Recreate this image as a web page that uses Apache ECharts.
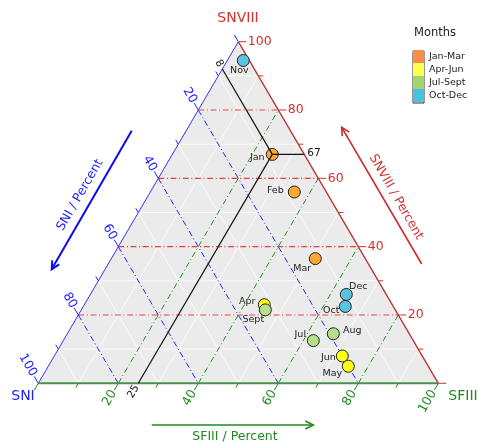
<!DOCTYPE html>
<html>
<head>
<meta charset="utf-8">
<script src="https://cdn.jsdelivr.net/npm/echarts@6/dist/echarts.min.js"></script>
<style>
  html, body { margin: 0; padding: 0; background: #fff; }
  #chart { width: 479px; height: 443px; }
</style>
</head>
<body>
<div id="chart"></div>
<script>
// monthly composition (percent)
const months = ['Jan', 'Feb', 'Mar', 'Apr', 'May', 'Jun', 'Jul', 'Aug', 'Sept', 'Oct', 'Nov', 'Dec'];
const sni    = [8, 8, 12.5, 32, 20, 20, 25, 19, 32.5, 12, 1.5, 10];
const sfiii  = [25, 36, 51, 45, 75, 72, 62.5, 66.5, 46, 65.5, 4, 64];
const snviii = [67, 56, 36.5, 23, 5, 8, 12.5, 14.5, 21.5, 22.5, 94.5, 26];
const quarters = ['Jan-Mar', 'Apr-Jun', 'Jul-Sept', 'Oct-Dec'];
const quarterOf = [0, 0, 0, 1, 1, 1, 2, 2, 2, 3, 3, 3];

// the reading lines through January
const markSni = 8, markSfiii = 25, markSnviii = 67;

const gridSteps = [10, 20, 30, 40, 50, 60, 70, 80, 90];
const dashSteps = [20, 40, 60, 80];
const tickValues = [0, 10, 20, 30, 40, 50, 60, 70, 80, 90, 100];
const tickLabels = [20, 40, 60, 80, 100];

const pointColors = ['#ffa733', '#ffff14', '#b6e18a', '#5ac3e0'];
const legendColors = ['#ff8c45', '#ffff50', '#a0d66e', '#48c3df'];
// label offsets around each point (px)
const labelOffset = {
  Jan: [-15, 3], Feb: [-19, -1], Mar: [-13, 10], Apr: [-17, -3], May: [-16, 7], Jun: [-14, 2],
  Jul: [-13, -6], Aug: [19, -3], Sept: [-12, 10], Oct: [-14, 4], Nov: [-4, 10], Dec: [12, -8]
};

const FONT = 'DejaVu Sans';
const BLUE = '#2222ff', GREEN = '#1f8a1f', RED = '#d63030';

// ternary (SNI, SFIII, SNVIII) -> cartesian (x, y) on 0..100 axes
const tern = (a, b, c) => [b + c / 2, c];

function seg(p, q, style) {
  return { type: 'line', shape: { x1: p[0], y1: p[1], x2: q[0], y2: q[1] }, style: style };
}
function unit(p, q) {
  const dx = q[0] - p[0], dy = q[1] - p[1], l = Math.hypot(dx, dy);
  return [dx / l, dy / l];
}

function renderFrame(params, api) {
  const P = (a, b, c) => api.coord(tern(a, b, c));
  const kids = [];
  kids.push({ type: 'polygon', shape: { points: [P(100, 0, 0), P(0, 100, 0), P(0, 0, 100)] },
    style: { fill: '#ebebeb' } });
  const white = { stroke: '#ffffff', lineWidth: 0.8 };
  gridSteps.forEach(v => {
    kids.push(seg(P(100 - v, 0, v), P(0, 100 - v, v), white));
    kids.push(seg(P(v, 0, 100 - v), P(v, 100 - v, 0), white));
    kids.push(seg(P(100 - v, v, 0), P(0, v, 100 - v), white));
  });
  const dash = [6, 2.5, 1.2, 2.5];
  dashSteps.forEach(v => {
    kids.push(seg(P(100 - v, 0, v), P(0, 100 - v, v), { stroke: '#dd2a2a', lineWidth: 1.1, lineDash: dash, opacity: 0.9 }));
    kids.push(seg(P(v, 0, 100 - v), P(v, 100 - v, 0), { stroke: '#1f1fff', lineWidth: 1, lineDash: dash }));
    kids.push(seg(P(100 - v, v, 0), P(0, v, 100 - v), { stroke: '#228a22', lineWidth: 1, lineDash: dash }));
  });
  // edges
  kids.push(seg(P(100, 0, 0), P(0, 0, 100), { stroke: '#3333ff', lineWidth: 1 }));
  kids.push(seg(P(0, 100, 0), P(0, 0, 100), { stroke: '#b83030', lineWidth: 1.3 }));
  kids.push(seg(P(100, 0, 0), P(0, 100, 0), { stroke: '#4a904a', lineWidth: 2 }));

  // ticks + labels
  tickValues.forEach(v => {
    const major = tickLabels.indexOf(v) >= 0 || v === 0;
    const len = major ? 8 : 5;
    // SNI on left edge
    let p = P(v, 0, 100 - v), d = unit(P(v, 10, 90 - v), p);
    kids.push(seg(p, [p[0] + d[0] * len, p[1] + d[1] * len], { stroke: BLUE, lineWidth: 1 }));
    if (tickLabels.indexOf(v) >= 0) {
      kids.push({ type: 'text', x: p[0] + d[0] * 9, y: p[1] + d[1] * 9, rotation: -Math.atan2(-d[1], -d[0]),
        style: { text: String(v), fill: BLUE, fontSize: 12.5, fontFamily: FONT, align: 'right', verticalAlign: 'middle' } });
    }
    // SFIII on bottom edge
    p = P(100 - v, v, 0); d = unit(P(90 - v, v, 10), p);
    kids.push(seg(p, [p[0] + d[0] * len, p[1] + d[1] * len], { stroke: GREEN, lineWidth: 1 }));
    if (tickLabels.indexOf(v) >= 0) {
      kids.push({ type: 'text', x: p[0] + d[0] * 9, y: p[1] + d[1] * 9, rotation: -Math.atan2(-d[1], -d[0]),
        style: { text: String(v), fill: GREEN, fontSize: 12.5, fontFamily: FONT, align: 'right', verticalAlign: 'middle' } });
    }
    // SNVIII on right edge
    p = P(0, 100 - v, v); d = unit(P(10, 90 - v, v), p);
    kids.push(seg(p, [p[0] + d[0] * len, p[1] + d[1] * len], { stroke: RED, lineWidth: 1 }));
    if (tickLabels.indexOf(v) >= 0) {
      kids.push({ type: 'text', x: p[0] + 9.5, y: p[1],
        style: { text: String(v), fill: RED, fontSize: 12.5, fontFamily: FONT, align: 'left', verticalAlign: 'middle' } });
    }
  });
  return { type: 'group', children: kids };
}

function renderMark(params, api) {
  const P = (a, b, c) => api.coord(tern(a, b, c));
  const j = P(markSni, markSfiii, markSnviii);
  const e1 = P(markSni, 0, 100 - markSni);
  const e2 = P(0, 100 - markSnviii, markSnviii);
  const e3 = P(100 - markSfiii, markSfiii, 0);
  const st = { stroke: '#111', lineWidth: 1.2 };
  const d1 = unit(P(markSni, 10, 90 - markSni), e1);
  const d3 = unit(P(90 - markSfiii, markSfiii, 10), e3);
  const tx = { fill: '#111', fontSize: 10.5, fontFamily: FONT, verticalAlign: 'middle' };
  return { type: 'group', children: [
    seg(e1, j, st), seg(j, e2, st), seg(j, e3, st),
    { type: 'text', x: e1[0] + d1[0] * 3, y: e1[1] + d1[1] * 3, rotation: -Math.atan2(-d1[1], -d1[0]),
      style: Object.assign({ text: String(markSni), align: 'right' }, tx) },
    { type: 'text', x: e2[0] + 3, y: e2[1] - 1,
      style: Object.assign({ text: String(markSnviii), align: 'left' }, tx) },
    { type: 'text', x: e3[0] + d3[0] * 3, y: e3[1] + d3[1] * 3, rotation: -Math.atan2(-d3[1], -d3[0]),
      style: Object.assign({ text: String(markSfiii), align: 'right' }, tx) }
  ] };
}

function arrow(x1, y1, x2, y2, color, w) {
  const ang = Math.atan2(y2 - y1, x2 - x1), L = 8, W = 4;
  const bx = x2 - L * Math.cos(ang), by = y2 - L * Math.sin(ang);
  const nx = -Math.sin(ang), ny = Math.cos(ang);
  return { type: 'group', children: [
    { type: 'line', shape: { x1: x1, y1: y1, x2: x2, y2: y2 }, style: { stroke: color, lineWidth: w } },
    { type: 'polyline', shape: { points: [[bx + nx * W, by + ny * W], [x2, y2], [bx - nx * W, by - ny * W]] },
      style: { stroke: color, lineWidth: w, fill: null } }
  ] };
}
function label(text, x, y, color, size, rot) {
  return { type: 'text', x: x, y: y, rotation: rot || 0,
    style: { text: text, fill: color, fontSize: size, fontFamily: FONT, align: 'center', verticalAlign: 'middle' } };
}

const scatterSeries = quarters.map((q, qi) => ({
  name: q,
  type: 'scatter',
  z: 3,
  symbolSize: 12,
  itemStyle: { color: pointColors[qi], borderColor: '#222', borderWidth: 1, opacity: 1 },
  label: { show: true, position: 'inside', formatter: '{b}', color: '#222', fontSize: 9.5, fontFamily: FONT },
  data: months.map((m, i) => ({ i: i, m: m })).filter(o => quarterOf[o.i] === qi).map(o => ({
    name: o.m,
    value: tern(sni[o.i], sfiii[o.i], snviii[o.i]),
    label: { offset: labelOffset[o.m] }
  }))
}));

const chart = echarts.init(document.getElementById('chart'));
chart.setOption({
  animation: false,
  grid: { left: 38.3, right: 40.7, top: 41.7, bottom: 59.7 },
  xAxis: { type: 'value', min: 0, max: 100, show: false },
  yAxis: { type: 'value', min: 0, max: 100, show: false },
  legend: {
    orient: 'vertical', left: 413, top: 50, itemWidth: 11, itemHeight: 13, itemGap: 0,
    selectedMode: false, padding: 0,
    textStyle: { color: '#222', fontSize: 9.5, fontFamily: FONT },
    data: quarters.map((q, i) => ({ name: q, icon: 'rect', itemStyle: { color: legendColors[i], borderWidth: 0 } }))
  },
  graphic: [
    label('Months', 435, 33, '#222', 11.5),
    { type: 'rect', shape: { x: 413, y: 51, width: 11, height: 52 }, style: { fill: null, stroke: '#333', lineWidth: 1 } },
    label('SNVIII', 238, 18, RED, 14),
    label('SNI', 23, 396, BLUE, 14),
    label('SFIII', 463, 396, GREEN, 14),
    arrow(131.7, 130.7, 51.7, 269.3, '#0a0aee', 2),
    label('SNI / Percent', 80, 195, BLUE, 12.5, Math.PI / 3),
    arrow(421.7, 264, 341.7, 127.3, '#cc2a2a', 1.6),
    label('SNVIII / Percent', 396, 197, RED, 12.5, -Math.PI / 3),
    arrow(151.7, 425, 313.3, 425, '#1f8a1f', 1.6),
    label('SFIII / Percent', 235, 437, GREEN, 12.5)
  ],
  series: [
    { type: 'custom', coordinateSystem: 'cartesian2d', z: 1, silent: true, clip: false,
      data: [[0, 0]], renderItem: renderFrame },
    ...scatterSeries,
    { type: 'custom', coordinateSystem: 'cartesian2d', z: 4, silent: true, clip: false,
      data: [[0, 0]], renderItem: renderMark }
  ]
});
</script>
</body>
</html>
